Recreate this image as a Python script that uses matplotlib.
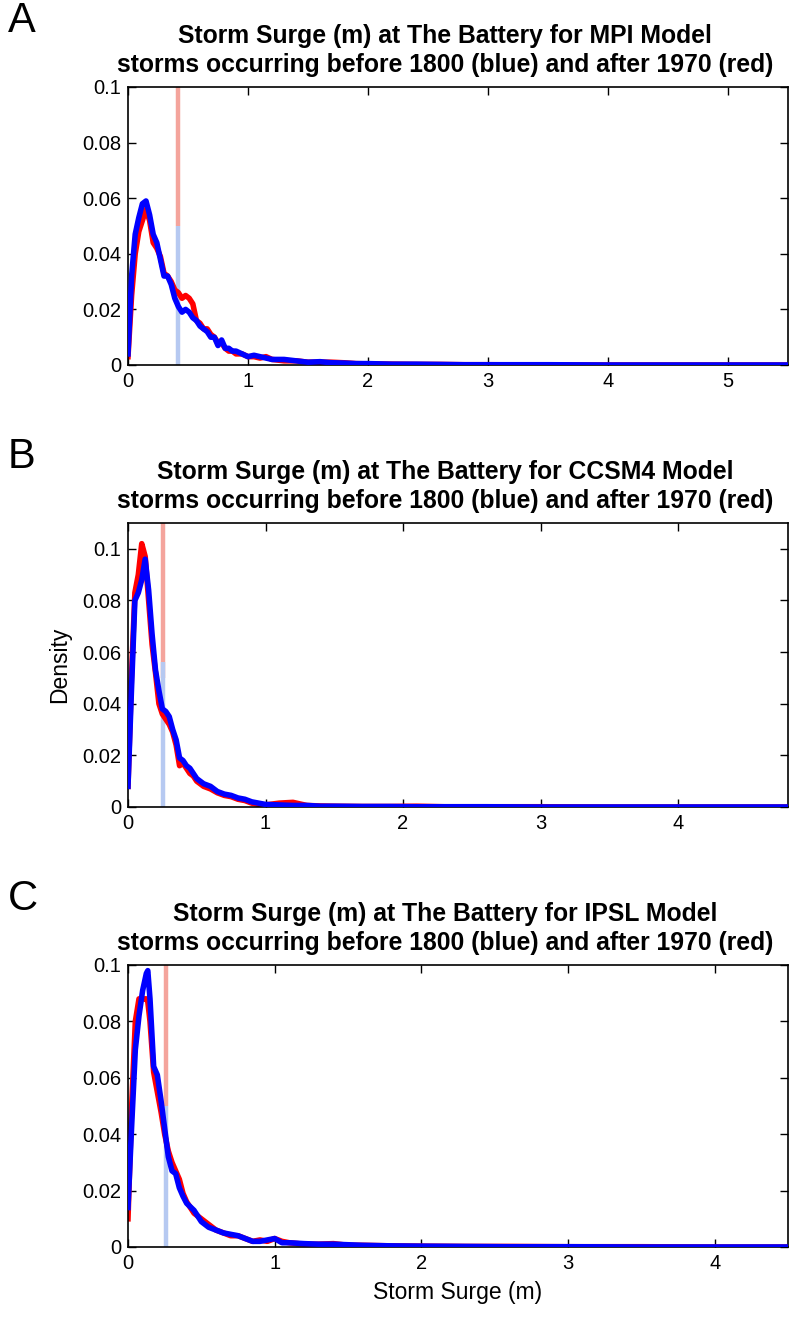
import matplotlib
matplotlib.use("Agg")
import matplotlib.pyplot as plt
from matplotlib import font_manager as fm

# pick a narrow sans if present (MATLAB export look), otherwise plain Liberation Sans
try:
    fm.findfont("Liberation Sans Narrow", fallback_to_default=False)
    FAM = ["Liberation Sans Narrow", "DejaVu Sans"]
    narrow = True
except Exception:
    FAM = ["Liberation Sans", "DejaVu Sans"]
    narrow = False
plt.rcParams["font.family"] = FAM

# ---- data: density of storm surge (m) ----
models = ["MPI", "CCSM4", "IPSL"]
letters = ["A", "B", "C"]

x_mpi = [0, 0.03, 0.06, 0.09, 0.12, 0.15, 0.18, 0.21, 0.24, 0.27,
         0.30, 0.33, 0.36, 0.39, 0.42, 0.45, 0.48, 0.51, 0.54, 0.57,
         0.60, 0.63, 0.66, 0.69, 0.72, 0.75, 0.78, 0.81, 0.84, 0.87,
         0.90, 0.95, 1.0, 1.05, 1.1, 1.15, 1.2, 1.3, 1.4, 1.5,
         1.6, 1.7, 1.8, 1.9, 2.0, 2.2, 2.4, 2.6, 2.8, 3.0,
         3.5, 4.0, 4.5, 5.0, 5.5]
blue_mpi = [0.004, 0.032, 0.047, 0.053, 0.058, 0.059, 0.054, 0.047, 0.044, 0.038,
            0.032, 0.032, 0.029, 0.024, 0.021, 0.019, 0.020, 0.019, 0.017, 0.016,
            0.014, 0.013, 0.012, 0.010, 0.010, 0.007, 0.009, 0.006, 0.006, 0.005,
            0.005, 0.004, 0.003, 0.0035, 0.003, 0.0025, 0.002, 0.002, 0.0015, 0.001,
            0.0012, 0.0008, 0.0007, 0.0005, 0.0005, 0.0003, 0.0003, 0.0002, 0.0001, 0.0001,
            0.0001, 0, 0, 0, 0]
red_mpi = [0.003, 0.025, 0.040, 0.048, 0.052, 0.056, 0.052, 0.044, 0.042, 0.039,
           0.033, 0.032, 0.030, 0.027, 0.026, 0.024, 0.025, 0.024, 0.022, 0.016,
           0.015, 0.013, 0.013, 0.011, 0.010, 0.008, 0.008, 0.006, 0.005, 0.005,
           0.004, 0.004, 0.003, 0.003, 0.0025, 0.003, 0.002, 0.0015, 0.0015, 0.001,
           0.001, 0.001, 0.0008, 0.0005, 0.0004, 0.0003, 0.0002, 0.0002, 0.0001, 0.0001,
           0, 0, 0, 0, 0]

x_ccsm = [0, 0.025, 0.05, 0.075, 0.1, 0.125, 0.15, 0.175, 0.2, 0.225,
          0.25, 0.275, 0.3, 0.325, 0.35, 0.375, 0.4, 0.425, 0.45, 0.475,
          0.5, 0.55, 0.6, 0.65, 0.7, 0.75, 0.8, 0.85, 0.9, 0.95,
          1.0, 1.1, 1.2, 1.3, 1.4, 1.5, 1.7, 1.9, 2.1, 2.3,
          2.6, 3.0, 3.5, 4.0, 4.4, 4.8]
blue_ccsm = [0.008, 0.045, 0.080, 0.083, 0.088, 0.096, 0.084, 0.067, 0.053, 0.045,
             0.038, 0.037, 0.035, 0.030, 0.026, 0.019, 0.018, 0.016, 0.015, 0.013,
             0.011, 0.009, 0.008, 0.006, 0.005, 0.0045, 0.0035, 0.003, 0.002, 0.0015,
             0.001, 0.0008, 0.0006, 0.0006, 0.0003, 0.0003, 0.0002, 0.0002, 0.0001, 0.0001,
             0.0001, 0, 0, 0, 0, 0]
red_ccsm = [0.008, 0.050, 0.083, 0.090, 0.102, 0.097, 0.080, 0.063, 0.052, 0.040,
            0.036, 0.034, 0.032, 0.029, 0.024, 0.016, 0.017, 0.015, 0.013, 0.012,
            0.010, 0.008, 0.007, 0.0055, 0.0045, 0.004, 0.003, 0.0025, 0.0015, 0.001,
            0.0008, 0.0015, 0.0018, 0.0006, 0.0004, 0.0003, 0.0002, 0.0002, 0.0003, 0.0001,
            0.0001, 0.0001, 0, 0, 0, 0]

x_ipsl = [0, 0.025, 0.05, 0.075, 0.1, 0.125, 0.135, 0.15, 0.175, 0.2,
          0.225, 0.25, 0.275, 0.3, 0.325, 0.35, 0.375, 0.4, 0.45, 0.5,
          0.55, 0.6, 0.65, 0.7, 0.75, 0.8, 0.85, 0.9, 0.95, 1.0,
          1.05, 1.1, 1.2, 1.3, 1.4, 1.5, 1.6, 1.8, 2.0, 2.3,
          2.6, 3.0, 3.5, 4.0, 4.5]
blue_ipsl = [0.014, 0.043, 0.070, 0.082, 0.091, 0.097, 0.098, 0.088, 0.064, 0.061,
             0.052, 0.042, 0.032, 0.027, 0.026, 0.021, 0.018, 0.0155, 0.013, 0.009,
             0.007, 0.006, 0.005, 0.0045, 0.004, 0.003, 0.002, 0.002, 0.0025, 0.003,
             0.0015, 0.0015, 0.0012, 0.001, 0.001, 0.0008, 0.0006, 0.0004, 0.0003, 0.0002,
             0.0001, 0.0001, 0, 0, 0]
red_ipsl = [0.010, 0.050, 0.080, 0.088, 0.088, 0.088, 0.087, 0.080, 0.062, 0.055,
            0.048, 0.040, 0.034, 0.030, 0.027, 0.024, 0.019, 0.016, 0.012, 0.010,
            0.008, 0.006, 0.005, 0.004, 0.004, 0.003, 0.002, 0.0025, 0.002, 0.003,
            0.002, 0.0015, 0.001, 0.001, 0.0012, 0.0006, 0.0006, 0.0004, 0.0003, 0.0002,
            0.0002, 0.0001, 0.0001, 0, 0]

# vertical marker lines: x position, blue top, red bottom
marker_x = [0.42, 0.255, 0.26]
marker_blue_top = [0.05, 0.056, 0.05]
marker_red_bottom = [0.05, 0.05, 0.05]

xmax = [5.5, 4.8, 4.5]
ymax = [0.1, 0.11, 0.1]

xs = [x_mpi, x_ccsm, x_ipsl]
blues = [blue_mpi, blue_ccsm, blue_ipsl]
reds = [red_mpi, red_ccsm, red_ipsl]

# ---- figure ----
W, H = 794, 1325
fig = plt.figure(figsize=(W / 100, H / 100), dpi=100)

# axes boxes in pixels (top, bottom)
boxes = [(87, 365), (523, 807), (965, 1247)]
left_px, right_px = 128, 788

fs_tick = 16 if narrow else 14.5
fs_title = 21 if narrow else 17.8

for i in range(3):
    top, bot = boxes[i]
    ax = fig.add_axes([left_px / W, 1 - bot / H, (right_px - left_px) / W, (bot - top) / H])
    ymx = ymax[i]
    ax.plot([marker_x[i], marker_x[i]], [marker_red_bottom[i], ymx], color="#f4a49c", lw=3.2, zorder=1, solid_capstyle="butt")
    ax.plot([marker_x[i], marker_x[i]], [0, marker_blue_top[i]], color="#b6c9f1", lw=3.2, zorder=1, solid_capstyle="butt")
    ax.plot(xs[i], reds[i], color="#ff0000", lw=4, zorder=2, solid_joinstyle="round")
    ax.plot(xs[i], blues[i], color="#0000ff", lw=4, zorder=3, solid_joinstyle="round")
    ax.set_xlim(0, xmax[i])
    ax.set_ylim(0, ymx)
    ax.set_xticks(range(0, int(xmax[i]) + 1))
    ax.set_yticks([0, 0.02, 0.04, 0.06, 0.08, 0.1])
    ax.set_yticklabels(["0", "0.02", "0.04", "0.06", "0.08", "0.1"])
    ax.tick_params(direction="in", top=True, right=True, length=6, width=1,
                   labelsize=fs_tick, pad=5)
    for s in ax.spines.values():
        s.set_linewidth(1.2)
    ax.set_title("Storm Surge (m) at The Battery for %s Model\n"
                 "storms occurring before 1800 (blue) and after 1970 (red)" % models[i],
                 fontsize=fs_title, fontweight="bold", pad=11, linespacing=1.25, x=0.48)
    fig.text(8 / W, 1 - (top - 66) / H, letters[i], fontsize=30, ha="left", va="center")
    if i == 1:
        ax.set_ylabel("Density", fontsize=fs_tick + 2, labelpad=8)
    if i == 2:
        ax.set_xlabel("Storm Surge (m)", fontsize=fs_tick + 2, labelpad=6)

fig.savefig("out.png", dpi=100)
